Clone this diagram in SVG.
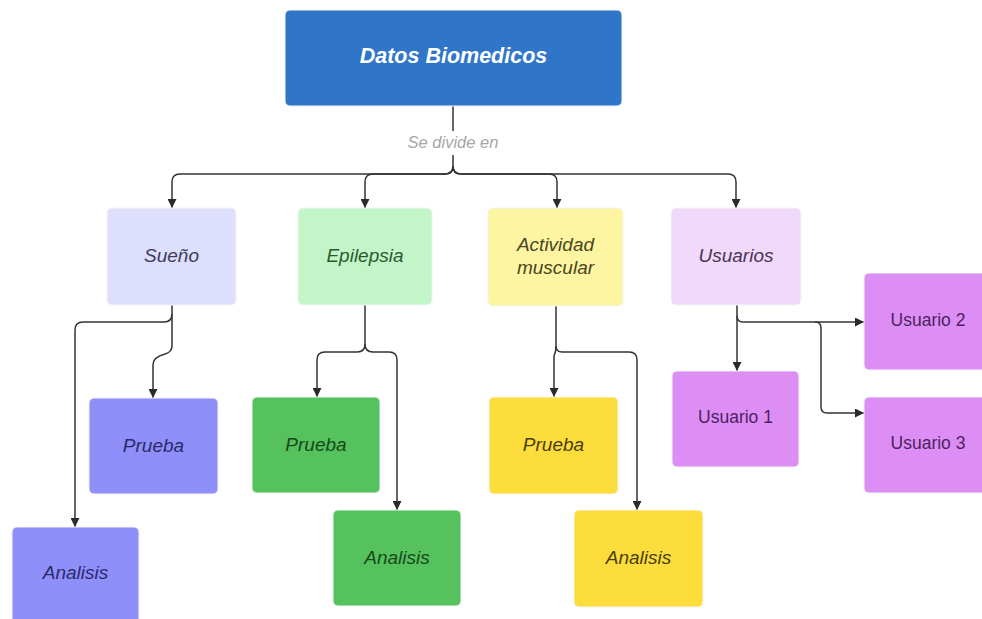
<svg xmlns="http://www.w3.org/2000/svg" width="982" height="619" viewBox="0 0 982 619">
<style>
.t{font-family:"Liberation Sans",Arial,sans-serif;text-anchor:middle;font-style:italic;font-size:19px}
.u{font-family:"Liberation Sans",Arial,sans-serif;text-anchor:middle;font-size:17.5px;fill:#4f1f5f}
.c{fill:none;stroke:#333;stroke-width:1.5}
.b{stroke:#f4f4f4;stroke-width:1}
</style>
<defs>
<marker id="ah" viewBox="0 0 10 10" refX="10" refY="5" markerWidth="10" markerHeight="9" markerUnits="userSpaceOnUse" orient="auto">
<path d="M0,0 L10,5 L0,10 z" fill="#2a2a2a"/>
</marker>
</defs>
<rect width="982" height="619" fill="#fff"/>
<g id="connectors">
<path class="c" d="M453,106 V166 Q453,174 445,174 H180 Q172,174 172,182 V208" marker-end="url(#ah)"/>
<path class="c" d="M453,166 Q453,174 445,174 H373 Q365,174 365,182 V208" marker-end="url(#ah)"/>
<path class="c" d="M453,166 Q453,174 461,174 H549 Q557,174 557,182 V208" marker-end="url(#ah)"/>
<path class="c" d="M453,166 Q453,174 461,174 H728 Q736,174 736,182 V208" marker-end="url(#ah)"/>
<path class="c" d="M172,305 V314 Q172,322 164,322 H83 Q75,322 75,330 V527" marker-end="url(#ah)"/>
<path class="c" d="M172,314 V346 Q172,352 165,354 Q153,357 153,365 V398" marker-end="url(#ah)"/>
<path class="c" d="M365,305 V344 Q365,352 357,352 H325 Q317,352 317,360 V397" marker-end="url(#ah)"/>
<path class="c" d="M365,344 Q365,352 373,352 H389 Q397,352 397,360 V510" marker-end="url(#ah)"/>
<path class="c" d="M556,306 V346 Q556,352 554,356 V397" marker-end="url(#ah)"/>
<path class="c" d="M556,346 Q556,352 562,352 H629 Q637,352 637,360 V510" marker-end="url(#ah)"/>
<path class="c" d="M737,305 V371" marker-end="url(#ah)"/>
<path class="c" d="M737,316 Q737,322 743,322 H864" marker-end="url(#ah)"/>
<path class="c" d="M815,322 Q821,322 821,328 V407 Q821,413 827,413 H864" marker-end="url(#ah)"/>
<rect x="402" y="131" width="102" height="24" fill="#fff"/>
<text x="453" y="148" style="font-family:'Liberation Sans',Arial,sans-serif;font-style:italic;font-size:16.5px;fill:#a6a6a6;text-anchor:middle">Se divide en</text>
</g>
<g id="datos">
<rect class="b" x="285" y="10" width="337" height="96" rx="5" fill="#2f76c9"/>
<text class="t" x="453.5" y="63" style="font-weight:bold;font-size:21.5px" fill="#fff">Datos Biomedicos</text>
</g>
<g id="sueno">
<rect class="b" x="107" y="208" width="129" height="97" rx="5" fill="#dedffd"/>
<text class="t" x="171.5" y="262" fill="#3c3c5a">Sueño</text>
</g>
<g id="epilepsia">
<rect class="b" x="298" y="208" width="134" height="97" rx="5" fill="#c3f5c8"/>
<text class="t" x="365" y="262" fill="#2c5a30">Epilepsia</text>
</g>
<g id="actividad">
<rect class="b" x="488" y="208" width="135" height="98" rx="5" fill="#fdf5a2"/>
<text class="t" x="555.5" y="251" fill="#4a4520">Actividad</text>
<text class="t" x="555.5" y="274" fill="#4a4520">muscular</text>
</g>
<g id="usuarios">
<rect class="b" x="671" y="208" width="130" height="97" rx="5" fill="#f1d9fb"/>
<text class="t" x="736" y="262" fill="#4a3552">Usuarios</text>
</g>
<g id="sueno-prueba">
<rect class="b" x="89" y="398" width="129" height="96" rx="5" fill="#8f8ffa"/>
<text class="t" x="153.5" y="452" fill="#2a2a6a">Prueba</text>
</g>
<g id="sueno-analisis">
<rect class="b" x="12" y="527" width="127" height="98" rx="5" fill="#8f8ffa"/>
<text class="t" x="75.5" y="579" fill="#2a2a6a">Analisis</text>
</g>
<g id="epilepsia-prueba">
<rect class="b" x="252" y="397" width="128" height="96" rx="5" fill="#56c25e"/>
<text class="t" x="316" y="451" fill="#144a1a">Prueba</text>
</g>
<g id="epilepsia-analisis">
<rect class="b" x="333" y="510" width="128" height="96" rx="5" fill="#56c25e"/>
<text class="t" x="397" y="564" fill="#144a1a">Analisis</text>
</g>
<g id="actividad-prueba">
<rect class="b" x="489" y="397" width="129" height="97" rx="5" fill="#fddd3c"/>
<text class="t" x="553.5" y="451" fill="#4a3d0a">Prueba</text>
</g>
<g id="actividad-analisis">
<rect class="b" x="574" y="510" width="129" height="97" rx="5" fill="#fddd3c"/>
<text class="t" x="638.5" y="564" fill="#4a3d0a">Analisis</text>
</g>
<g id="usuario1">
<rect class="b" x="672" y="371" width="127" height="96" rx="5" fill="#dc8ef5"/>
<text class="u" x="735.5" y="423">Usuario 1</text>
</g>
<g id="usuario2">
<rect class="b" x="864" y="273" width="130" height="97" rx="5" fill="#dc8ef5"/>
<text class="u" x="928" y="326">Usuario 2</text>
</g>
<g id="usuario3">
<rect class="b" x="864" y="397" width="130" height="96" rx="5" fill="#dc8ef5"/>
<text class="u" x="928" y="449">Usuario 3</text>
</g>
</svg>
